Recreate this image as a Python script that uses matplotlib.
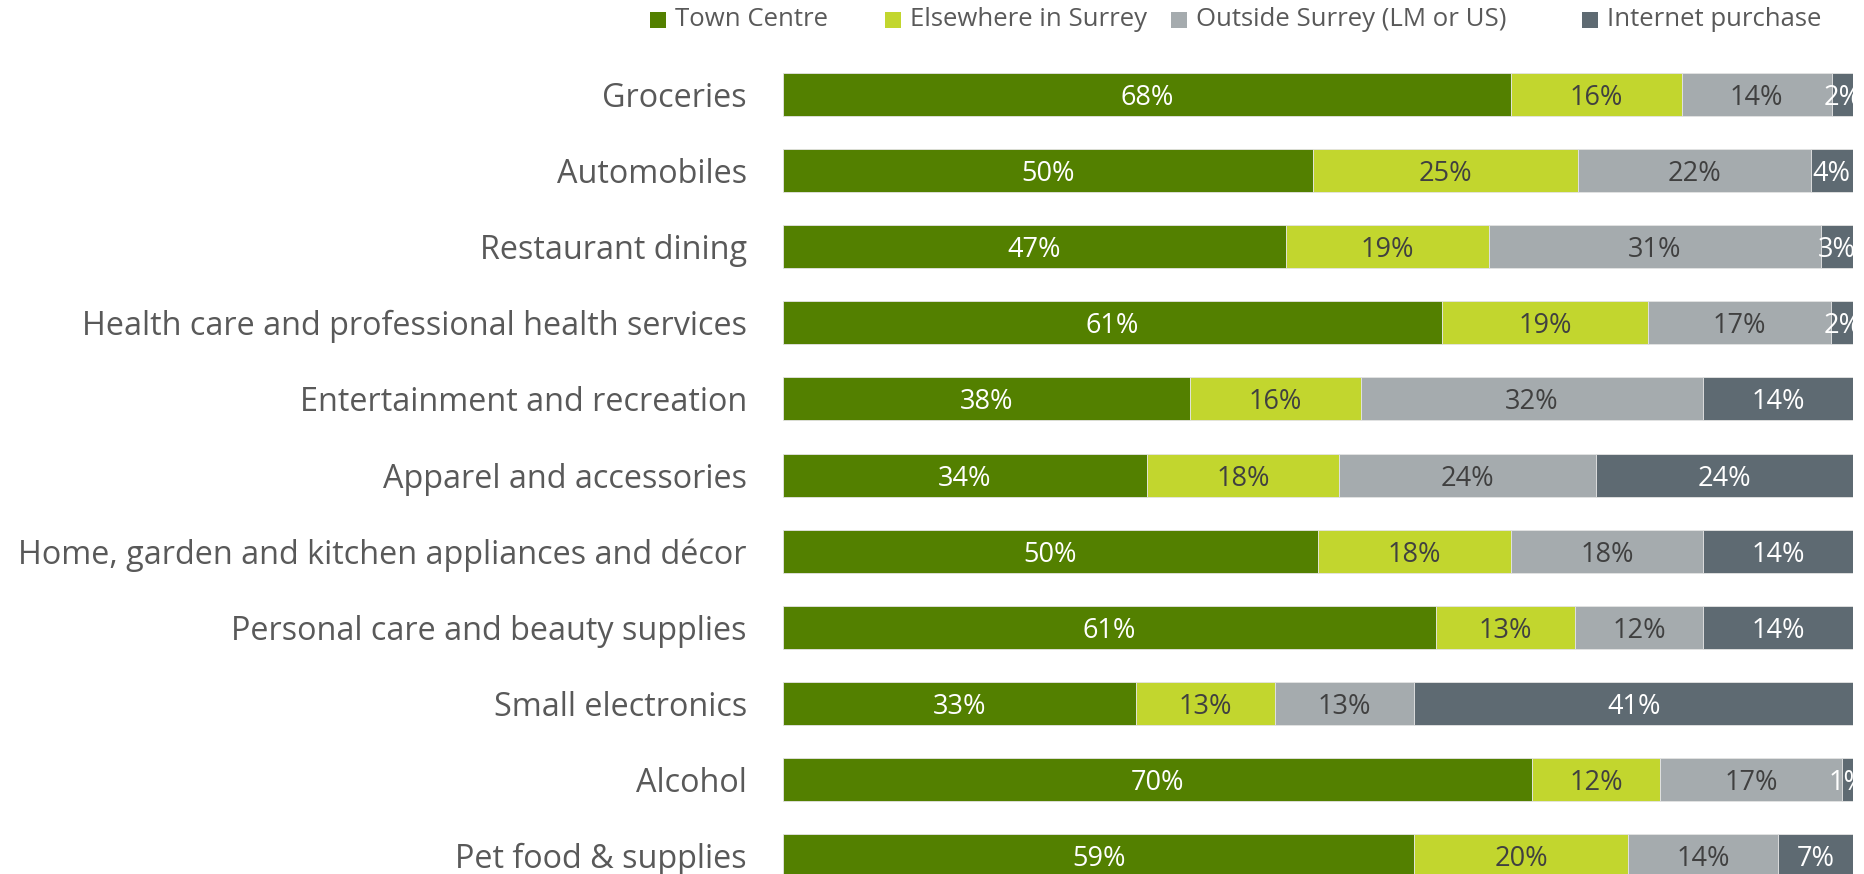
import numpy as np
import matplotlib.pyplot as plt
from matplotlib.patches import Rectangle

plt.rcParams['font.family'] = ['Open Sans', 'DejaVu Sans']

# shopping categories, top to bottom
categories = [
    'Groceries',
    'Automobiles',
    'Restaurant dining',
    'Health care and professional health services',
    'Entertainment and recreation',
    'Apparel and accessories',
    'Home, garden and kitchen appliances and décor',
    'Personal care and beauty supplies',
    'Small electronics',
    'Alcohol',
    'Pet food & supplies',
]

# share of purchases by location (%)
town_centre = [68, 50, 47, 61, 38, 34, 50, 61, 33, 70, 59]
elsewhere_surrey = [16, 25, 19, 19, 16, 18, 18, 13, 13, 12, 20]
outside_surrey = [14, 22, 31, 17, 32, 24, 18, 12, 13, 17, 14]
internet = [2, 4, 3, 2, 14, 24, 14, 14, 41, 1, 7]

series_names = ['Town Centre', 'Elsewhere in Surrey', 'Outside Surrey (LM or US)', 'Internet purchase']
colors = ['#538000', '#c2d62e', '#a5abae', '#5e6a72']
text_colors = ['white', '#404040', '#404040', 'white']

series = np.array([town_centre, elsewhere_surrey, outside_surrey, internet], dtype=float)
# 100% stacked: scale each row to its own total
shares = series / series.sum(axis=0) * 100

W, H = 1865, 874
fig = plt.figure(figsize=(W / 100, H / 100), dpi=100)
ax = fig.add_axes([783 / W, 0, 1070 / W, 824 / H])

y = np.arange(len(categories))
left = np.zeros(len(categories))
for vals, shr, col, tcol in zip(series, shares, colors, text_colors):
    ax.barh(y, shr, left=left, height=0.565, color=col, edgecolor='#e4e4e4', linewidth=0.6)
    for yi, l, w, v in zip(y, left, shr, vals):
        ax.text(l + w / 2, yi, f'{v:.0f}%', ha='center', va='center_baseline',
                fontsize=19.5, color=tcol, clip_on=True)
    left += shr

ax.set_xlim(0, 100)
ax.set_ylim(10.243, -0.585)
ax.set_yticks(y)
ax.set_yticklabels(categories, fontsize=23.3, color='#595959')
ax.tick_params(axis='y', length=0, pad=26)
ax.set_xticks([])
for s in ax.spines.values():
    s.set_visible(False)

# legend row across the top, one swatch + label per series
legend_x = [650, 885, 1171, 1582]
sq = 16
for x0, name, col in zip(legend_x, series_names, colors):
    fig.patches.append(Rectangle((x0 / W, 1 - (20 + sq / 2) / H), sq / W, sq / H,
                                 transform=fig.transFigure, facecolor=col, edgecolor='none'))
    fig.text((x0 + sq + 9) / W, 1 - 19 / H, name, fontsize=18.5, color='#595959',
             ha='left', va='center')

fig.savefig('out.png', dpi=100)
